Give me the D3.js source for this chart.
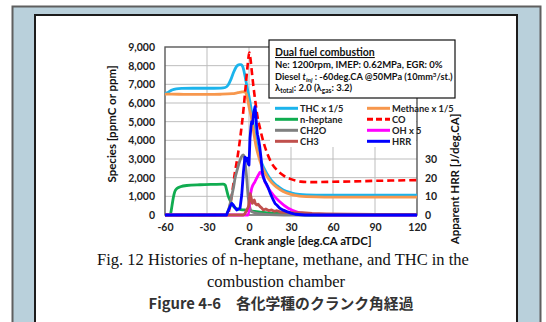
<!DOCTYPE html>
<html>
<head>
<meta charset="utf-8">
<script src="https://cdn.jsdelivr.net/npm/d3@7"></script>
<style>
  body { margin: 0; background: #fff; }
  svg { display: block; }
  .tick text { font-family: Lato, "Open Sans", sans-serif; font-weight: bold; font-size: 10.5px; fill: #222; }
</style>
</head>
<body>
<svg id="chart" width="546" height="322"></svg>
<script>
// species histories (deg.CA, value)
var thc = [[-60,6480],[-58,6560],[-55,6700],[-52,6760],[-48,6780],[-40,6790],[-30,6790],[-20,6800],[-17,6830],[-15,6950],[-13,7250],[-11,7650],[-9,7950],[-7,8050],[-5.5,8060],[-4.5,7950],[-3,7500],[-1.5,6900],[0,6350],[1.5,5700],[3,4900],[5,4000],[6.5,3480],[9,2800],[12.6,2240],[16,1850],[20,1570],[24.4,1340],[30,1190],[36,1110],[48,1070],[60,1060],[90,1060],[120,1060]];
var methane = [[-60,6480],[-50,6470],[-40,6460],[-30,6460],[-20,6470],[-12,6500],[-8,6550],[-5,6590],[-3,6610],[-2,6500],[-1,6200],[0,5800],[1.5,5300],[3,4600],[5,3700],[7,3100],[9,2650],[12.6,2100],[16,1750],[20,1480],[24.4,1260],[30,1100],[36,1010],[48,970],[60,960],[90,960],[120,960]];
var heptane = [[-60,0],[-57,0],[-56,80],[-55,500],[-54,950],[-53,1250],[-51.5,1420],[-49,1510],[-44.5,1580],[-35,1620],[-25,1640],[-18.5,1650],[-17,1600],[-16,1350],[-15,1050],[-13,700],[-11.4,480],[-9,340],[-6,290],[-3,270],[0,230],[4,190],[8,150],[14,110],[20,80],[30,40],[40,10],[50,0],[120,0]];
var co = [[-60,0],[-16,0],[-15,40],[-13.6,500],[-12.4,1000],[-10,2300],[-8,3200],[-6,4300],[-4,5600],[-2.5,6800],[-1,8000],[0.2,8700],[1,8400],[2,7700],[3,7000],[4.5,6100],[6,5300],[8,4600],[10,4000],[13,3300],[16,2800],[20,2400],[25,2100],[30,1920],[37,1790],[47,1760],[60,1780],[75,1800],[90,1830],[105,1850],[120,1870]];
var ch2o = [[-60,0],[-17,0],[-15,200],[-13.5,600],[-12.4,1000],[-11,1500],[-10,1950],[-8.5,2400],[-7,2800],[-5.5,3100],[-4.2,3220],[-3.5,3150],[-2.6,2700],[-1.6,1950],[-0.5,900],[0.7,370],[2,180],[5,100],[10,50],[20,10],[30,0],[120,0]];
var oh = [[-60,0],[-0.5,0],[0.7,900],[1.9,1430],[4.3,1790],[6.7,2140],[7.9,2290],[9.5,2140],[11.4,1790],[13.8,1430],[17.4,1070],[22,710],[28,360],[35,140],[44.8,40],[55,0],[120,0]];
var ch3 = [[-60,0],[-4,0],[-3,60],[-1.6,270],[-0.5,420],[0.2,750],[0.8,1150],[1.4,980],[2.4,620],[3.2,760],[3.8,800],[4.6,600],[5.5,540],[6.5,580],[7.9,450],[9,380],[10.2,270],[12,320],[14,240],[16.2,270],[18,200],[20,230],[23.3,140],[27,160],[32,110],[38,130],[45,80],[55,60],[70,40],[90,30],[120,20]];
var hrr = [[-60,0],[-16,0],[-15.2,1.7],[-13.5,4.5],[-12.4,6.2],[-11.3,5.5],[-10.5,4.5],[-8.8,2.7],[-7.5,3.2],[-6.4,3.7],[-5.2,10.7],[-4,23],[-2.9,31],[-2.2,29],[-1.6,30.5],[-0.6,27.5],[0,26.8],[0.7,41],[1.4,47],[1.9,50],[2.6,49],[3.1,53.6],[3.7,56],[4.3,58],[4.8,54.6],[5.5,46.6],[6.1,43],[6.7,41],[7.6,37],[8.6,30.5],[9.5,23],[10.4,20],[11.4,17.9],[12.6,16.5],[13.8,14.5],[15,12],[16.2,9.9],[17.4,8],[18.6,6.2],[20,5.2],[22,3.6],[24.5,2.6],[27,1.8],[30,1],[33,0.4],[40,0],[120,0]];

var xTicks = [-60, -30, 0, 30, 60, 90, 120];
var yTicks = [0, 1000, 2000, 3000, 4000, 5000, 6000, 7000, 8000, 9000];
var hrrTicks = [0, 10, 20, 30];

var series = [
  {name: "THC x 1/5", data: thc, color: "#1cb4ec", col: 0, row: 0},
  {name: "Methane x 1/5", data: methane, color: "#f7974d", col: 1, row: 0},
  {name: "n-heptane", data: heptane, color: "#10ac50", col: 0, row: 1},
  {name: "CO", data: co, color: "#ff0000", col: 1, row: 1, dash: "7,4"},
  {name: "CH2O", data: ch2o, color: "#808080", col: 0, row: 2},
  {name: "OH x 5", data: oh, color: "#ff00ff", col: 1, row: 2},
  {name: "CH3", data: ch3, color: "#c0504d", col: 0, row: 3, jagged: true},
  {name: "HRR", data: hrr, color: "#0000ff", col: 1, row: 3, jagged: true, right: true}
];

var svg = d3.select("#chart");
var sans = "Lato, 'Open Sans', sans-serif";

// page frame
svg.append("rect").attr("x", 12.5).attr("y", 6.5).attr("width", 528).attr("height", 340)
  .attr("fill", "#b9d0db").attr("stroke", "#5f5f5f").attr("stroke-width", 2);
svg.append("rect").attr("x", 35).attr("y", 15).attr("width", 482).attr("height", 330)
  .attr("fill", "#fff").attr("stroke", "#1c1c1c").attr("stroke-width", 2);

var x = d3.scaleLinear().domain([-60, 120]).range([165, 417]);
var y = d3.scaleLinear().domain([0, 9000]).range([215, 47]);
var y2 = d3.scaleLinear().domain([0, 90]).range([215, 47]);

// grid
svg.append("g").selectAll("line").data(yTicks.slice(1, -1)).enter().append("line")
  .attr("x1", 165).attr("x2", 417).attr("y1", d => y(d)).attr("y2", d => y(d))
  .attr("stroke", "#bdbdbd").attr("stroke-width", 1);
svg.append("g").selectAll("line").data(xTicks.slice(1, -1)).enter().append("line")
  .attr("y1", 47).attr("y2", 215).attr("x1", d => x(d)).attr("x2", d => x(d))
  .attr("stroke", "#bdbdbd").attr("stroke-width", 1);

svg.append("rect").attr("x", 165).attr("y", 47).attr("width", 252).attr("height", 168)
  .attr("fill", "none").attr("stroke", "#595959").attr("stroke-width", 1.4);

// axes
svg.append("g").attr("transform", "translate(165,0)")
  .call(d3.axisLeft(y).tickValues(yTicks).tickFormat(d3.format(",")).tickSize(0).tickPadding(10))
  .call(g => g.select(".domain").remove());
svg.append("g").attr("transform", "translate(0,215)")
  .call(d3.axisBottom(x).tickValues(xTicks).tickFormat(d => String(d)).tickSize(0).tickPadding(9))
  .call(g => g.select(".domain").remove());
svg.append("g").attr("transform", "translate(417,0)")
  .call(d3.axisRight(y2).tickValues(hrrTicks).tickSize(0).tickPadding(8))
  .call(g => g.select(".domain").remove());

// legend background and notes box
svg.append("rect").attr("x", 270).attr("y", 98).attr("width", 146).attr("height", 49).attr("fill", "#fff");
svg.append("rect").attr("x", 269).attr("y", 40).attr("width", 186).attr("height", 58)
  .attr("fill", "#fff").attr("stroke", "#111").attr("stroke-width", 1.2);

// curves
var line = d3.line().x(d => x(d[0]));
series.forEach(function(s) {
  var ys = s.right ? y2 : y;
  line.y(d => ys(d[1])).curve(s.jagged ? d3.curveLinear : d3.curveMonotoneX);
  svg.append("path").datum(s.data).attr("d", line)
    .attr("fill", "none").attr("stroke", s.color)
    .attr("stroke-width", s.dash ? 2.6 : 2.8)
    .attr("stroke-linejoin", "round")
    .attr("stroke-dasharray", s.dash || null);
});

// legend entries
var lg = svg.append("g").attr("font-family", sans).attr("font-weight", "bold").attr("font-size", 9.3).attr("fill", "#222");
series.forEach(function(s) {
  var x0 = s.col ? 367 : 275, yy = 108.3 + s.row * 11;
  lg.append("line").attr("x1", x0).attr("x2", x0 + 23).attr("y1", yy).attr("y2", yy)
    .attr("stroke", s.color).attr("stroke-width", 3).attr("stroke-dasharray", s.dash ? "6,3" : null);
  lg.append("text").attr("x", x0 + 25).attr("y", yy + 3.4).text(s.name);
});

// notes text
var nt = svg.append("g").attr("font-family", sans).attr("font-weight", "bold").attr("fill", "#111");
nt.append("text").attr("x", 275).attr("y", 56).attr("font-size", 10.5)
  .attr("text-decoration", "underline").text("Dual fuel combustion");
nt.append("text").attr("x", 275).attr("y", 67.5).attr("font-size", 9.5).text("Ne: 1200rpm, IMEP: 0.62MPa,  EGR: 0%");
var t3 = nt.append("text").attr("x", 275).attr("y", 80).attr("font-size", 9.2);
t3.append("tspan").text("Diesel  ");
t3.append("tspan").attr("font-style", "italic").text("t");
t3.append("tspan").attr("font-size", 6.3).attr("font-style", "italic").attr("dy", 2).text("inj");
t3.append("tspan").attr("dy", -2).text(" : -60deg.CA @50MPa (10mm");
t3.append("tspan").attr("font-size", 6.3).attr("dy", -3).text("3");
t3.append("tspan").attr("dy", 3).text("/st.)");
var t4 = nt.append("text").attr("x", 275).attr("y", 91).attr("font-size", 9.5);
t4.append("tspan").text("λ");
t4.append("tspan").attr("font-size", 6.5).attr("dy", 2).text("total");
t4.append("tspan").attr("dy", -2).text(": 2.0 (λ");
t4.append("tspan").attr("font-size", 6.5).attr("dy", 2).text("gas");
t4.append("tspan").attr("dy", -2).text(": 3.2)");

// axis titles
svg.append("text").attr("transform", "translate(116,124) rotate(-90)").attr("text-anchor", "middle")
  .attr("font-family", sans).attr("font-weight", "bold").attr("font-size", 11.5).attr("fill", "#111")
  .text("Species  [ppmC or ppm]");
svg.append("text").attr("transform", "translate(459,179) rotate(-90)").attr("text-anchor", "middle")
  .attr("font-family", sans).attr("font-weight", "bold").attr("font-size", 11.5).attr("fill", "#111")
  .text("Apparent HRR [J/deg.CA]");
svg.append("text").attr("x", 303).attr("y", 245).attr("text-anchor", "middle")
  .attr("font-family", sans).attr("font-weight", "bold").attr("font-size", 11.5).attr("fill", "#111")
  .text("Crank angle [deg.CA aTDC]");

// captions
var serif = "'Liberation Serif', 'DejaVu Serif', serif";
svg.append("text").attr("x", 283).attr("y", 265).attr("text-anchor", "middle")
  .attr("font-family", serif).attr("font-size", 16.5).attr("fill", "#111")
  .text("Fig. 12 Histories of n-heptane, methane, and THC in the");
svg.append("text").attr("x", 276).attr("y", 287).attr("text-anchor", "middle")
  .attr("font-family", serif).attr("font-size", 16.5).attr("fill", "#111")
  .text("combustion chamber");
svg.append("text").attr("x", 281).attr("y", 309).attr("text-anchor", "middle")
  .attr("font-family", "'Noto Sans CJK JP', sans-serif").attr("font-weight", 600).attr("font-size", 14.8).attr("fill", "#333")
  .text("Figure 4-6　各化学種のクランク角経過");
</script>
</body>
</html>
